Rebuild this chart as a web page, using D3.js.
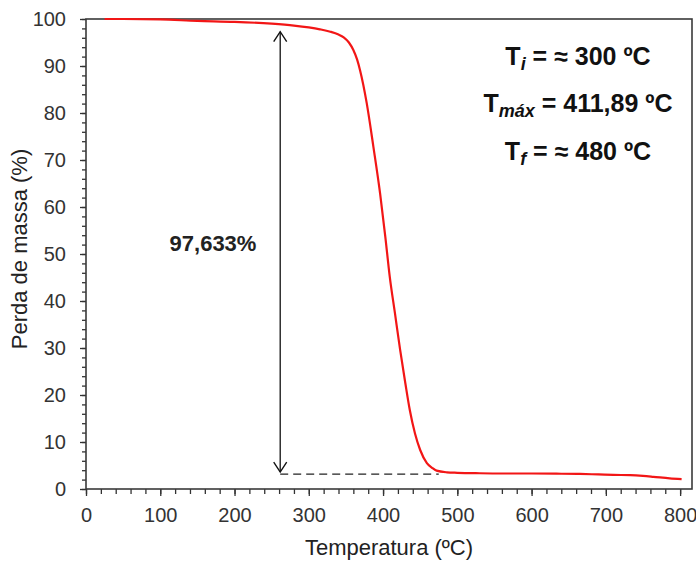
<!DOCTYPE html>
<html>
<head>
<meta charset="utf-8">
<script src="https://cdn.jsdelivr.net/npm/d3@7"></script>
<style>
  body { margin: 0; background: #fff; }
  svg { display: block; font-family: "Liberation Sans", Arial, sans-serif; }
</style>
</head>
<body>
<svg id="chart" width="696" height="563"></svg>
<script>
// ---- Data ----
const temperature = [25, 50, 100, 150, 200, 250, 280, 300, 315, 329, 340, 347, 354, 360, 365, 369, 378, 387, 396, 403, 409, 416, 423, 430, 436, 443, 450, 459, 466, 472, 486, 500, 530, 560, 600, 640, 665, 690, 710, 733, 750, 764, 786, 802];
const massLoss    = [100, 100, 99.9, 99.6, 99.4, 99.0, 98.6, 98.2, 97.8, 97.3, 96.7, 96.1, 95.0, 93.4, 91.4, 89.1, 82.1, 72.8, 62.9, 53.7, 45.2, 37.4, 29.6, 22.5, 16.8, 11.8, 8.3, 5.5, 4.5, 3.9, 3.55, 3.45, 3.35, 3.3, 3.3, 3.25, 3.2, 3.1, 3.0, 2.95, 2.8, 2.6, 2.25, 2.1];
const xMajorTicks = [0, 100, 200, 300, 400, 500, 600, 700, 800];
const yMajorTicks = [0, 10, 20, 30, 40, 50, 60, 70, 80, 90, 100];
const xMinorTicks = d3.range(0, 801, 20);
const yMinorTicks = d3.range(0, 101, 2);
const arrowTemp = 261.5, arrowTop = 97.3, arrowBottom = 3.6;
const dashLevel = 3.15, dashEnd = 475;
const lossLabel = "97,633%";
const xTitle = "Temperatura (ºC)";
const yTitle = "Perda de massa (%)";

const svg = d3.select("#chart");
const L = 86, R = 692, T = 19, B = 489;
const x = d3.scaleLinear().domain([0, 816]).range([L, R]);
const y = d3.scaleLinear().domain([0, 100]).range([B, T]);
const axisColor = "#333";

const gxMinor = svg.append("g").attr("transform", `translate(0,${B})`)
  .call(d3.axisBottom(x).tickValues(xMinorTicks).tickSize(5).tickFormat(""));
const gxMajor = svg.append("g").attr("transform", `translate(0,${B})`)
  .call(d3.axisBottom(x).tickValues(xMajorTicks).tickSize(7).tickPadding(12).tickFormat(d3.format("d")));
const gyMinor = svg.append("g").attr("transform", `translate(${L},0)`)
  .call(d3.axisLeft(y).tickValues(yMinorTicks).tickSize(4).tickFormat(""));
const gyMajor = svg.append("g").attr("transform", `translate(${L},0)`)
  .call(d3.axisLeft(y).tickValues(yMajorTicks).tickSize(6).tickPadding(14).tickFormat(d3.format("d")));

[gxMinor, gxMajor, gyMinor, gyMajor].forEach(g => {
  g.select(".domain").remove();
  g.selectAll("line").attr("stroke", axisColor).attr("stroke-width", 1.3);
  g.selectAll("text").attr("fill", "#333").style("font-size", "20px")
    .style("font-family", '"Liberation Sans", Arial, sans-serif');
});

// frame
svg.append("rect").attr("x", L).attr("y", T).attr("width", R - L).attr("height", B - T)
  .attr("fill", "none").attr("stroke", "#3a3a3a").attr("stroke-width", 1.6);

// curve
const line = d3.line().x((d, i) => x(temperature[i])).y(d => y(d)).curve(d3.curveMonotoneX);
svg.append("path").datum(massLoss).attr("d", line)
  .attr("fill", "none").attr("stroke", "#f21616").attr("stroke-width", 2.2);

// double arrow
const ax = x(arrowTemp), ayT = y(arrowTop), ayB = y(arrowBottom);
svg.append("line").attr("x1", ax).attr("x2", ax).attr("y1", ayT).attr("y2", ayB)
  .attr("stroke", "#111").attr("stroke-width", 1.3);
svg.append("path").attr("d", `M${ax - 6.5},${ayT + 10}L${ax},${ayT}L${ax + 6.5},${ayT + 10}`)
  .attr("fill", "none").attr("stroke", "#111").attr("stroke-width", 1.4);
svg.append("path").attr("d", `M${ax - 6.5},${ayB - 10}L${ax},${ayB}L${ax + 6.5},${ayB - 10}`)
  .attr("fill", "none").attr("stroke", "#111").attr("stroke-width", 1.4);
svg.append("line").attr("x1", ax).attr("x2", x(dashEnd)).attr("y1", y(dashLevel)).attr("y2", y(dashLevel))
  .attr("stroke", "#222").attr("stroke-width", 1.3).attr("stroke-dasharray", "8,5");

// loss label
svg.append("text").attr("x", 213).attr("y", 251).attr("text-anchor", "middle")
  .style("font-size", "22px").style("font-weight", "bold").attr("fill", "#222").text(lossLabel);

// annotations
const notes = [
  { sub: "i", rest: " = ≈ 300 ºC", yb: 65 },
  { sub: "máx", rest: " = 411,89 ºC", yb: 112 },
  { sub: "f", rest: " = ≈ 480 ºC", yb: 160 }
];
notes.forEach(n => {
  const t = svg.append("text").attr("x", 578).attr("y", n.yb).attr("text-anchor", "middle")
    .style("font-size", "25px").style("font-weight", "bold").attr("fill", "#111");
  t.append("tspan").text("T");
  t.append("tspan").attr("dy", 5).style("font-size", "18px").style("font-style", "italic").text(n.sub);
  t.append("tspan").attr("dy", -5).text(n.rest);
});

// axis titles
svg.append("text").attr("x", (L + R) / 2).attr("y", 555).attr("text-anchor", "middle")
  .style("font-size", "22px").attr("fill", "#222").text(xTitle);
svg.append("text").attr("transform", `translate(27,249) rotate(-90)`).attr("text-anchor", "middle")
  .style("font-size", "22px").attr("fill", "#222").text(yTitle);
</script>
</body>
</html>
